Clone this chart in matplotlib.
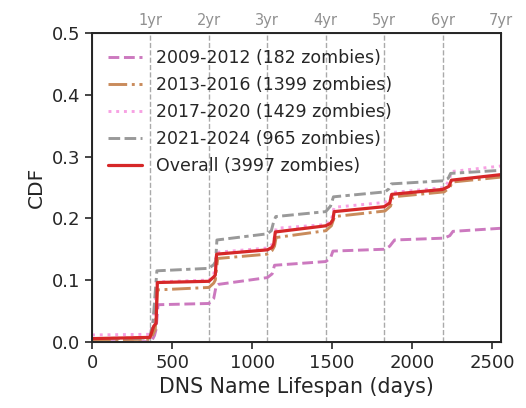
import numpy as np
import matplotlib
matplotlib.use("Agg")
import matplotlib.pyplot as plt
import seaborn as sns

# breakpoints (day, CDF)
days_0912 = [0, 370, 390, 400, 412, 730, 760, 775, 790, 1095, 1125, 1140, 1460, 1490, 1505,
             1830, 1860, 1890, 2200, 2235, 2255, 2555]
cdf_0912 = [0.0, 0.0, 0.01, 0.02, 0.06, 0.062, 0.07, 0.09, 0.093, 0.104, 0.110, 0.124, 0.130,
            0.136, 0.147, 0.150, 0.155, 0.165, 0.168, 0.172, 0.179, 0.184]

days_1316 = [0, 365, 395, 408, 730, 760, 770, 785, 1095, 1125, 1140, 1150, 1460, 1495, 1515,
             1830, 1865, 1880, 2200, 2235, 2250, 2555]
cdf_1316 = [0.003, 0.004, 0.02, 0.084, 0.088, 0.095, 0.100, 0.135, 0.142, 0.148, 0.155, 0.169,
            0.180, 0.188, 0.203, 0.212, 0.220, 0.235, 0.243, 0.250, 0.259, 0.267]

days_1720 = [0, 362, 380, 408, 730, 760, 778, 1095, 1125, 1140, 1150, 1460, 1495, 1512,
             1830, 1862, 1875, 2200, 2232, 2245, 2555]
cdf_1720 = [0.011, 0.012, 0.03, 0.097, 0.100, 0.108, 0.145, 0.152, 0.158, 0.170, 0.184,
            0.190, 0.197, 0.218, 0.226, 0.232, 0.242, 0.250, 0.262, 0.276, 0.285]

days_2124 = [0, 360, 380, 405, 730, 760, 772, 780, 1095, 1120, 1135, 1148, 1460, 1490, 1508,
             1830, 1855, 1870, 2195, 2225, 2240, 2555]
cdf_2124 = [0.005, 0.006, 0.03, 0.115, 0.119, 0.125, 0.13, 0.165, 0.175, 0.180, 0.195, 0.203,
            0.211, 0.220, 0.235, 0.243, 0.248, 0.256, 0.261, 0.265, 0.273, 0.278]

days_all = [0, 362, 385, 400, 408, 730, 760, 770, 778, 1095, 1125, 1135, 1145, 1460, 1490,
            1505, 1512, 1825, 1860, 1872, 2190, 2230, 2245, 2555]
cdf_all = [0.005, 0.007, 0.025, 0.03, 0.096, 0.098, 0.105, 0.108, 0.142, 0.149, 0.153, 0.158,
           0.178, 0.188, 0.192, 0.198, 0.211, 0.219, 0.225, 0.239, 0.247, 0.252, 0.262, 0.271]

labels = ["2009-2012 (182 zombies)", "2013-2016 (1399 zombies)", "2017-2020 (1429 zombies)",
          "2021-2024 (965 zombies)", "Overall (3997 zombies)"]
year_ticks = [365 * k for k in range(1, 8)]
year_labels = ["%dyr" % k for k in range(1, 8)]

sns.set_style("ticks")
plt.rcParams['font.family'] = ['DejaVu Sans']

fig = plt.figure(figsize=(5.26, 4.08), dpi=100)
ax = fig.add_axes([0.175, 0.1625, 0.7775, 0.7555])

for d in year_ticks:
    ax.axvline(d, color='#aaaaaa', ls='--', lw=1.0, zorder=1)

ax.plot(days_0912, cdf_0912, color='#cc79bf', ls='--', lw=2.1, label=labels[0])
ax.plot(days_1316, cdf_1316, color='#c98b5b', ls='-.', lw=2.1, label=labels[1])
ax.plot(days_1720, cdf_1720, color='#f7a1e3', ls=':', lw=2.1, label=labels[2])
ax.plot(days_2124, cdf_2124, color='#999999', ls=(0, (4, 1.5, 4, 1.5, 1.5, 1.5)), lw=2.1,
        label=labels[3])
ax.plot(days_all, cdf_all, color='#d62728', ls='-', lw=2.3, label=labels[4])

ax.set_xlim(0, 2555)
ax.set_ylim(0, 0.5)
ax.set_xticks([0, 500, 1000, 1500, 2000, 2500])
ax.set_yticks([0, 0.1, 0.2, 0.3, 0.4, 0.5])
ax.tick_params(labelsize=13, length=5, width=1.2, color='.15')
for s in ax.spines.values():
    s.set_linewidth(1.4)
    s.set_color('.15')
ax.set_xlabel("DNS Name Lifespan (days)", fontsize=14.8)
ax.set_ylabel("CDF", fontsize=14.5)

top = ax.twiny()
top.set_xlim(ax.get_xlim())
top.set_xticks(year_ticks)
top.set_xticklabels(year_labels)
top.tick_params(length=0, labelsize=10.5, labelcolor='#909090', pad=4)

ax.legend(loc='upper left', frameon=False, fontsize=12.5, handlelength=2.0,
          borderaxespad=0.5, labelspacing=0.52)

fig.savefig("out.png", dpi=100)
